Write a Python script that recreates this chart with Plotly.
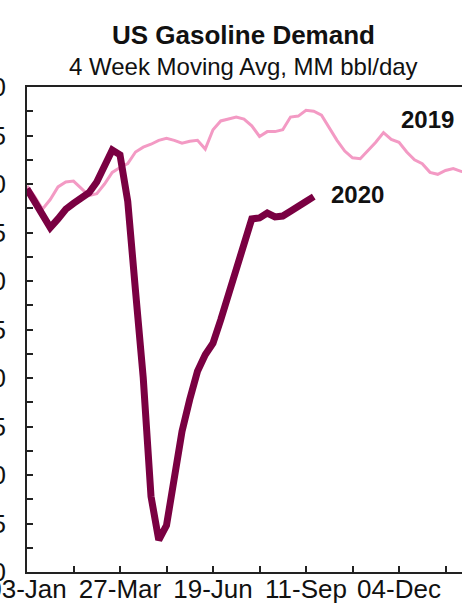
import pandas as pd
import plotly.graph_objects as go

# Weekly observations (4-week moving average, million barrels per day)
week_start = "2020-01-03"
n_weeks = 58
demand_2020 = [
    8.95, 8.82, 8.67, 8.55, 8.64, 8.74, 8.80, 8.86, 8.91, 9.02,
    9.18, 9.35, 9.30, 8.82, 7.90, 7.00, 5.78, 5.33, 5.48, 5.95,
    6.45, 6.78, 7.07, 7.24, 7.36, 7.60, 7.87, 8.12, 8.38, 8.64,
    8.65, 8.70, 8.66, 8.67, 8.72, 8.76, 8.82, 8.87,
]
demand_2019 = [
    8.98, 8.87, 8.74, 8.84, 8.97, 9.02, 9.03, 8.96, 8.88, 8.90,
    9.00, 9.12, 9.17, 9.21, 9.33, 9.38, 9.41, 9.45, 9.47, 9.45,
    9.42, 9.44, 9.45, 9.36, 9.56, 9.65, 9.67, 9.69, 9.67, 9.60,
    9.49, 9.54, 9.54, 9.56, 9.69, 9.70, 9.76, 9.75, 9.71, 9.58,
    9.45, 9.34, 9.27, 9.26, 9.34, 9.43, 9.53, 9.46, 9.43, 9.33,
    9.25, 9.21, 9.12, 9.10, 9.14, 9.16, 9.13, 9.12,
]
series_names = ["2019", "2020"]
title_text = "US Gasoline Demand"
subtitle_text = "4 Week Moving Avg, MM bbl/day"

weeks = pd.date_range(week_start, periods=n_weeks, freq="7D")

COL_2020 = "#7A0042"
COL_2019 = "#F39AC4"
FONT = "Liberation Sans, Arial, sans-serif"
DAY_MS = 86400000

fig = go.Figure()
fig.add_trace(go.Scatter(
    x=weeks[:len(demand_2019)], y=demand_2019, mode="lines",
    line=dict(color=COL_2019, width=3), name=series_names[0],
))
fig.add_trace(go.Scatter(
    x=weeks[:len(demand_2020)], y=demand_2020, mode="lines",
    line=dict(color=COL_2020, width=7, shape="linear"), name=series_names[1],
))

# Series labels
fig.add_annotation(x=weeks[48], y=9.66, xref="x", yref="y", text="<b>2019</b>",
                   showarrow=False, xanchor="left", yanchor="middle",
                   font=dict(family=FONT, size=24, color="#111111"))
fig.add_annotation(x=weeks[39], y=8.89, xref="x", yref="y", text="<b>2020</b>",
                   showarrow=False, xanchor="left", yanchor="middle",
                   font=dict(family=FONT, size=24, color="#111111"))

# Title and subtitle
fig.add_annotation(x=243, y=35, xref="paper", yref="paper", text=f"<b>{title_text}</b>",
                   showarrow=False, xanchor="center", yanchor="middle",
                   font=dict(family=FONT, size=26, color="#111111"))
fig.add_annotation(x=243, y=67, xref="paper", yref="paper", text=subtitle_text,
                   showarrow=False, xanchor="center", yanchor="middle",
                   font=dict(family=FONT, size=24, color="#111111"))

W, H = 462, 609
ML, MT, MB = 27, 87, 37
pw, ph = W - ML, H - MT - MB
# convert the pixel positions of the header annotations into paper coordinates
for ann in fig.layout.annotations:
    if ann.xref == "paper":
        ann.x = (ann.x - ML) / pw
        ann.y = 1 + (MT - ann.y) / ph

x_end = pd.Timestamp(week_start) + pd.Timedelta(days=7 * (W - ML) / 7.75)

fig.update_layout(
    width=W, height=H,
    margin=dict(l=ML, r=0, t=MT, b=MB, pad=0),
    paper_bgcolor="white", plot_bgcolor="white",
    showlegend=False,
    font=dict(family=FONT, size=26, color="#111111"),
)
fig.update_xaxes(
    type="date", range=[pd.Timestamp(week_start), x_end],
    tick0=week_start, dtick=84 * DAY_MS, tickformat="%d-%b",
    ticks="inside", ticklen=6, tickwidth=1.5, tickcolor="#222222",
    minor=dict(dtick=42 * DAY_MS, tick0=week_start, ticks="inside",
               ticklen=6, tickwidth=1.5, tickcolor="#222222"),
    showline=True, linecolor="#222222", linewidth=1.5, mirror=True,
    showgrid=False, zeroline=False, automargin=False,
    tickfont=dict(family=FONT, size=26, color="#111111"),
    ticklabelstandoff=-7, ticklabeloverflow="allow",
)
fig.update_yaxes(
    range=[5, 10], dtick=0.5, tick0=5, tickformat=".1f",
    ticks="inside", ticklen=6, tickwidth=1.5, tickcolor="#222222",
    minor=dict(dtick=0.25, ticks="inside", ticklen=6, tickwidth=1.5, tickcolor="#222222"),
    showline=True, linecolor="#222222", linewidth=1.5, mirror=False,
    showgrid=False, zeroline=False, automargin=False,
    tickfont=dict(family=FONT, size=26, color="#111111"),
    ticklabelstandoff=14, ticklabeloverflow="allow",
)

fig.write_html("out.html")
